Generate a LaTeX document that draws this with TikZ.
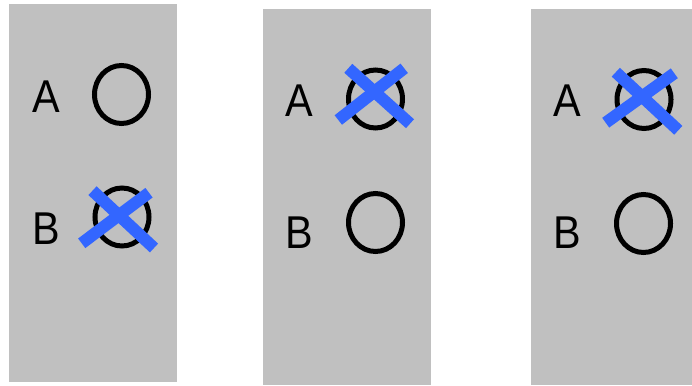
\documentclass[tikz,border=0pt]{standalone}
\usepackage{fontspec}
\setmainfont{Liberation Sans}
\usetikzlibrary{shapes.geometric}
\definecolor{PanelGray}{RGB}{192,192,192}
\definecolor{CrossBlue}{RGB}{51,102,255}
\tikzset{
  panel/.style={fill=PanelGray},
  letter/.style={anchor=base,inner sep=0pt,font=\fontsize{46}{46}\selectfont},
  ring/.style={ellipse,draw=black,line width=5pt,minimum width=54pt,
               minimum height=58pt,inner sep=0pt},
  strike/.style={draw=CrossBlue,line width=12pt}
}
\newcommand{\narrow}[1]{\scalebox{.9}[1]{#1}}
\begin{document}
\begin{tikzpicture}[x=1pt,y=-1pt]
  \useasboundingbox (0,0) rectangle (692,385);
  \fill[panel] (9,4) rectangle (177,382);
  \fill[panel] (263,9) rectangle (431,385);
  \fill[panel] (531,9) rectangle (692,385);

  \node[letter] (la1) at (46,112) {\narrow{A}};
  \node[letter] (lb1) at (46,244) {\narrow{B}};
  \node[ring] (a1) at (121.5,94.5) {};
  \node[ring] (b1) at (122,217) {};
  \draw[strike] ([shift={(-29.5,-26.3)}]b1.center) -- ([shift={(32,31)}]b1.center);
  \draw[strike] ([shift={(27,-24.3)}]b1.center) -- ([shift={(-40.3,26.3)}]b1.center);

  \node[letter] (la2) at (299,117) {\narrow{A}};
  \node[letter] (lb2) at (299,248) {\narrow{B}};
  \node[ring] (a2) at (375.5,99) {};
  \node[ring] (b2) at (375.5,222.5) {};
  \draw[strike] ([shift={(-27.2,-30.7)}]a2.center) -- ([shift={(34.5,24.7)}]a2.center);
  \draw[strike] ([shift={(28.7,-30.7)}]a2.center) -- ([shift={(-37.2,21)}]a2.center);

  \node[letter] (la3) at (567,117) {\narrow{A}};
  \node[letter] (lb3) at (567,248) {\narrow{B}};
  \node[ring] (a3) at (644,99.5) {};
  \node[ring] (b3) at (643.5,223.5) {};
  \draw[strike] ([shift={(-28.2,-27.3)}]a3.center) -- ([shift={(34.3,30.8)}]a3.center);
  \draw[strike] ([shift={(30.3,-26.2)}]a3.center) -- ([shift={(-38.3,23.2)}]a3.center);
\end{tikzpicture}
\end{document}
